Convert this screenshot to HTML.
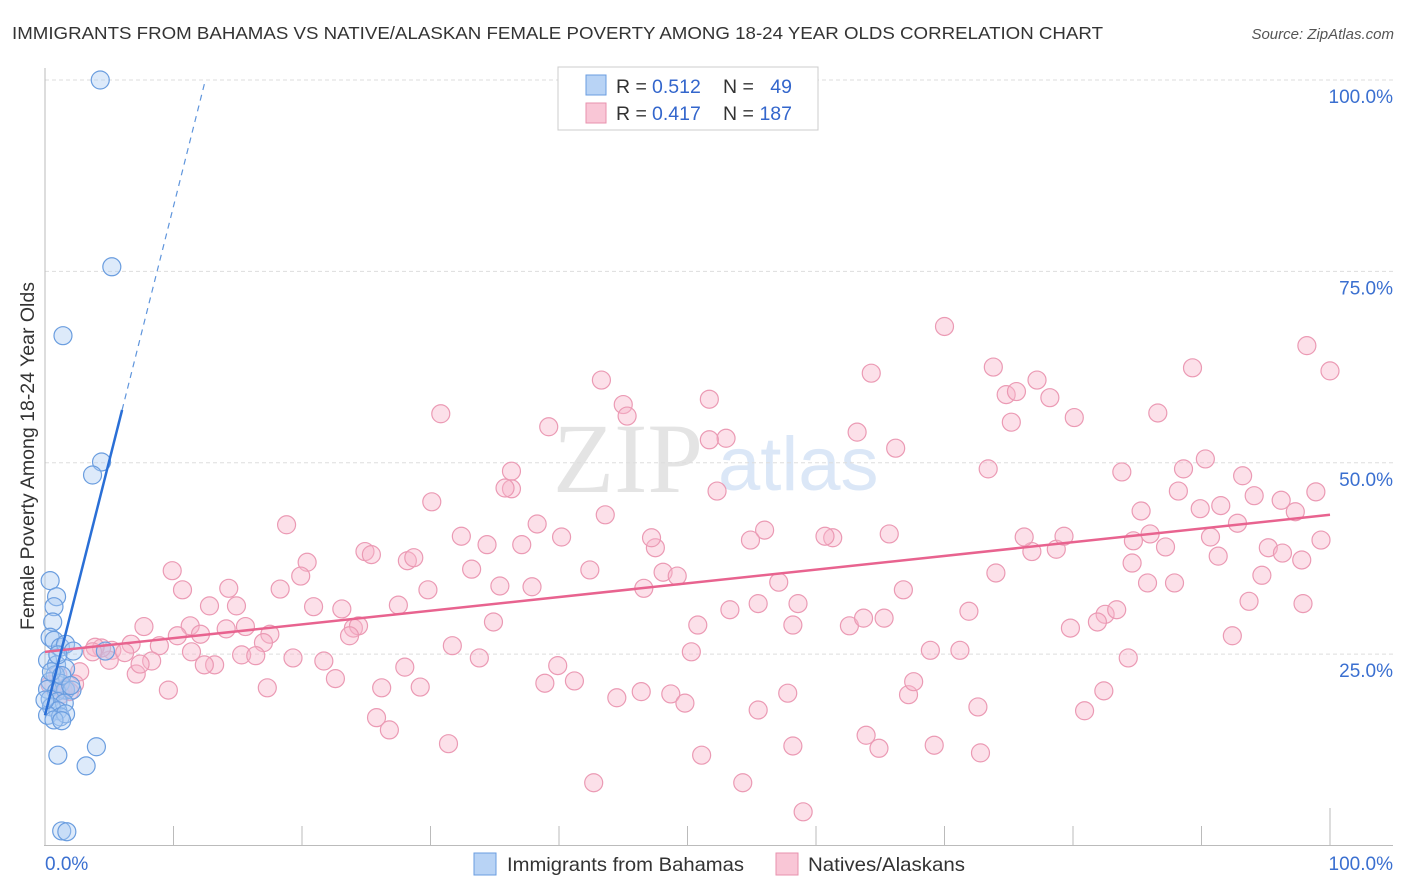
<!DOCTYPE html>
<html><head><meta charset="utf-8"><style>
body{margin:0;background:#fff;}
svg{display:block;font-family:"Liberation Sans",sans-serif;}
</style></head><body>
<svg id="chart" width="1406" height="892" viewBox="0 0 1406 892" xmlns="http://www.w3.org/2000/svg">
<text x="12" y="39" font-size="17.5" fill="#333" textLength="1091" lengthAdjust="spacingAndGlyphs">IMMIGRANTS FROM BAHAMAS VS NATIVE/ALASKAN FEMALE POVERTY AMONG 18-24 YEAR OLDS CORRELATION CHART</text>
<text x="1394" y="39" font-size="15" fill="#555" font-style="italic" text-anchor="end">Source: ZipAtlas.com</text>
<g>
<text x="553" y="492" font-family="Liberation Serif,serif" font-size="100" fill="#e4e4e4">ZIP</text>
<text x="718" y="490" font-size="76" fill="#dbe7f7">atlas</text>
</g>
<g id="grid"></g>
<g id="axes"></g>
<g id="pink"></g>
<g id="blue"></g>
<g id="lines"></g>
<text transform="translate(34,456) rotate(-90)" font-size="19" fill="#333" text-anchor="middle" textLength="348" lengthAdjust="spacingAndGlyphs">Female Poverty Among 18-24 Year Olds</text>
<g>
<rect x="558" y="67" width="260" height="63" fill="#fff" stroke="#ccc"/>
<rect x="586" y="75" width="20" height="20" fill="#b8d3f5" stroke="#6a9de0"/>
<rect x="586" y="103" width="20" height="20" fill="#f9c6d6" stroke="#e892ae"/>
<text x="616" y="93" font-size="19.5" fill="#333">R =</text>
<text x="652" y="93" font-size="19.5" fill="#3366cc">0.512</text>
<text x="723" y="93" font-size="19.5" fill="#333">N =</text>
<text x="792" y="93" font-size="19.5" fill="#3366cc" text-anchor="end">49</text>
<text x="616" y="120" font-size="19.5" fill="#333">R =</text>
<text x="652" y="120" font-size="19.5" fill="#3366cc">0.417</text>
<text x="723" y="120" font-size="19.5" fill="#333">N =</text>
<text x="792" y="120" font-size="19.5" fill="#3366cc" text-anchor="end">187</text>
</g>
<g>
<rect x="474" y="853" width="22" height="22" fill="#b8d3f5" stroke="#6a9de0"/>
<text x="507" y="871" font-size="19.5" fill="#333" textLength="237" lengthAdjust="spacingAndGlyphs">Immigrants from Bahamas</text>
<rect x="776" y="853" width="22" height="22" fill="#f9c6d6" stroke="#e892ae"/>
<text x="808" y="871" font-size="19.5" fill="#333" textLength="157" lengthAdjust="spacingAndGlyphs">Natives/Alaskans</text>
</g>
</svg>
<script>
const yTicks=[25,50,75,100];
const yTickLabels=["25.0%","50.0%","75.0%","100.0%"];
const xTicks=[10,20,30,40,50,60,70,80,90,100];
const blueX=[4.3,5.2,1.4,4.4,3.7,0.4,0.9,0.7,0.6,0.4,0.7,1.2,1.6,2.2,0.2,0.9,1.6,0.8,0.4,1.2,1.6,0.2,0.9,2.1,0.4,1.0,1.5,0.5,1.0,0.2,1.2,1.6,0.7,1.3,4.7,1.0,4.0,3.2,1.3,1.7,0,0.5,1.3,2.0,1.0];
const blueY=[100,75.6,66.6,50.1,48.4,34.6,32.5,31.2,29.2,27.2,26.8,25.9,26.3,25.4,24.2,23.6,23.1,22.3,21.4,21.2,20.3,20.4,20.1,20.3,19.1,18.8,18.6,18.1,17.6,17.0,16.8,17.2,16.4,16.3,25.4,11.8,12.9,10.4,1.9,1.8,19.0,22.7,22.2,20.9,24.9];
const pinkX=[70.0,73.8,77.2,74.8,75.6,78.2,80.1,75.2,86.6,89.3,98.2,100,43.3,45.0,45.3,51.7,30.8,39.2,53.0,63.2,64.3,66.2,73.4,83.8,90.3,88.6,88.2,93.2,94.1,96.2,98.9,97.3,89.9,85.3,91.5,92.8,86.0,84.7,87.2,90.7,91.3,95.2,96.3,97.8,94.7,93.7,97.9,99.3,92.4,84.6,85.8,82.5,83.4,81.9,79.8,78.7,76.8,76.2,79.3,74.0,71.9,87.9,84.3,82.4,80.9,72.6,72.8,69.2,71.2,68.9,65.7,66.8,65.3,62.6,61.3,60.7,57.1,58.6,58.2,55.5,53.3,56.0,54.9,52.3,51.7,50.8,50.3,48.7,49.8,51.1,46.4,48.1,49.2,46.6,47.5,47.2,43.6,40.2,38.3,36.3,36.3,35.8,37.1,34.4,35.4,37.9,42.4,33.2,34.9,33.8,31.7,28.2,28.7,29.8,30.1,32.4,24.9,25.4,20.4,19.9,18.8,18.3,17.5,15.6,14.3,14.9,12.8,14.1,13.2,11.3,12.1,10.3,9.9,10.7,7.7,6.7,5.2,6.2,7.1,5.0,4.4,3.9,3.7,2.7,2.3,1.6,8.9,8.3,11.4,15.3,17.0,16.4,19.3,20.9,21.7,22.6,24.0,23.1,24.4,23.7,27.5,26.2,29.2,28.0,31.4,25.8,26.8,17.3,12.4,39.9,38.9,41.2,44.5,55.5,57.8,58.2,54.3,42.7,59.0,63.9,64.9,67.2,67.6,63.7,7.4,9.6,1.4,1.9,0.4,1.0,1.2];
const pinkY=[67.8,62.5,60.8,58.9,59.3,58.5,55.9,55.3,56.5,62.4,65.3,62.0,60.8,57.6,56.1,58.3,56.4,54.7,53.2,54.0,61.7,51.9,49.2,48.8,50.5,49.2,46.3,48.3,45.7,45.1,46.2,43.6,44.0,43.7,44.4,42.1,40.7,39.8,39.0,40.3,37.8,38.9,38.2,37.3,35.3,31.9,31.6,39.9,27.4,36.9,34.3,30.2,30.8,29.2,28.4,38.7,38.4,40.3,40.4,35.6,30.6,34.3,24.5,20.2,17.6,18.1,12.1,13.1,25.5,25.5,40.7,33.4,29.7,28.7,40.2,40.4,34.4,31.6,28.8,31.6,30.8,41.2,39.9,46.3,53.0,28.8,25.3,19.8,18.6,11.8,20.1,35.7,35.2,33.6,38.9,40.2,43.2,40.3,42.0,46.6,48.9,46.7,39.3,39.3,33.9,33.8,36.0,36.1,29.2,24.5,26.1,37.2,37.6,33.4,44.9,40.4,38.4,38.0,37.0,35.2,41.9,33.5,27.6,28.6,33.6,31.3,31.3,28.3,23.6,28.7,27.6,27.4,35.9,33.4,28.6,26.3,25.5,25.2,22.4,24.2,25.8,25.9,25.3,22.7,21.1,20.6,26.1,24.1,25.3,24.9,26.5,24.8,24.5,31.2,24.1,21.8,28.4,30.9,28.7,27.4,31.4,20.6,20.7,23.3,13.3,16.7,15.1,20.6,23.6,23.5,21.2,21.5,19.3,17.7,19.9,13.0,8.2,8.2,4.4,14.4,12.7,19.7,21.4,29.7,23.7,20.3,20.3,20.1,21.0,22.3,19.7];
const blueFit=[17.0,6.65];
const pinkFit=[25.3,0.179];
const NS="http://www.w3.org/2000/svg";
const X0=45,X1=1330,Y0=845.5,Y100=80;
function sx(v){return X0+(X1-X0)*v/100;}
function sy(v){return Y0-(Y0-Y100)*v/100;}
function mk(tag,attrs,parent){const e=document.createElementNS(NS,tag);for(const k in attrs)e.setAttribute(k,attrs[k]);parent.appendChild(e);return e;}
const grid=document.getElementById('grid'),axes=document.getElementById('axes');
yTicks.forEach((t,i)=>{
 const l=mk('line',{x1:45,x2:1393,y1:sy(t),y2:sy(t),stroke:'#ddd','stroke-dasharray':'4,3'},grid);
 
 
 const tx=mk('text',{x:1393,y:sy(t)+23,'font-size':19,fill:'#3a6fd0','text-anchor':'end'},axes);
 tx.textContent=yTickLabels[i];
 
 
});
const al=mk('line',{x1:45,x2:45,y1:68,y2:846,stroke:'#bbb'},axes);


const bl=mk('line',{x1:44,x2:1393,y1:845.5,y2:845.5,stroke:'#bbb'},axes);


xTicks.forEach(t=>{
 const tk=mk('line',{x1:sx(t),x2:sx(t),y1:t==100?808:826,y2:845,stroke:'#bbb'},axes);
 
 
});
const xl0=mk('text',{x:45,y:870,'font-size':19,fill:'#3a6fd0'},axes);xl0.textContent='0.0%';


const xl1=mk('text',{x:1393,y:870,'font-size':19,fill:'#3a6fd0','text-anchor':'end'},axes);xl1.textContent='100.0%';


const pg=document.getElementById('pink');
pinkX.forEach((x,i)=>{
 const c=mk('circle',{cx:sx(x),cy:sy(pinkY[i]),r:9,fill:'rgba(248,182,203,0.42)',stroke:'#eb9ab4','stroke-width':1.2},pg);
 
 
});
const bg=document.getElementById('blue');
blueX.forEach((x,i)=>{
 const c=mk('circle',{cx:sx(x),cy:sy(blueY[i]),r:9,fill:'rgba(170,202,242,0.4)',stroke:'#6a9ddf','stroke-width':1.2},bg);
 
 
});
const lg=document.getElementById('lines');
const p1=mk('line',{x1:sx(0),y1:sy(pinkFit[0]),x2:sx(100),y2:sy(pinkFit[0]+pinkFit[1]*100),stroke:'#e8638f','stroke-width':2.5},lg);


const b1=mk('line',{x1:sx(0),y1:sy(blueFit[0]),x2:sx(6),y2:sy(blueFit[0]+blueFit[1]*6),stroke:'#2a6fd6','stroke-width':2.5},lg);


const xe=(100-blueFit[0])/blueFit[1];
const b2=mk('line',{x1:sx(6),y1:sy(blueFit[0]+blueFit[1]*6),x2:sx(xe),y2:sy(100),stroke:'#5f95dc','stroke-width':1.2,'stroke-dasharray':'6,5'},lg);


</script>
</body></html>
